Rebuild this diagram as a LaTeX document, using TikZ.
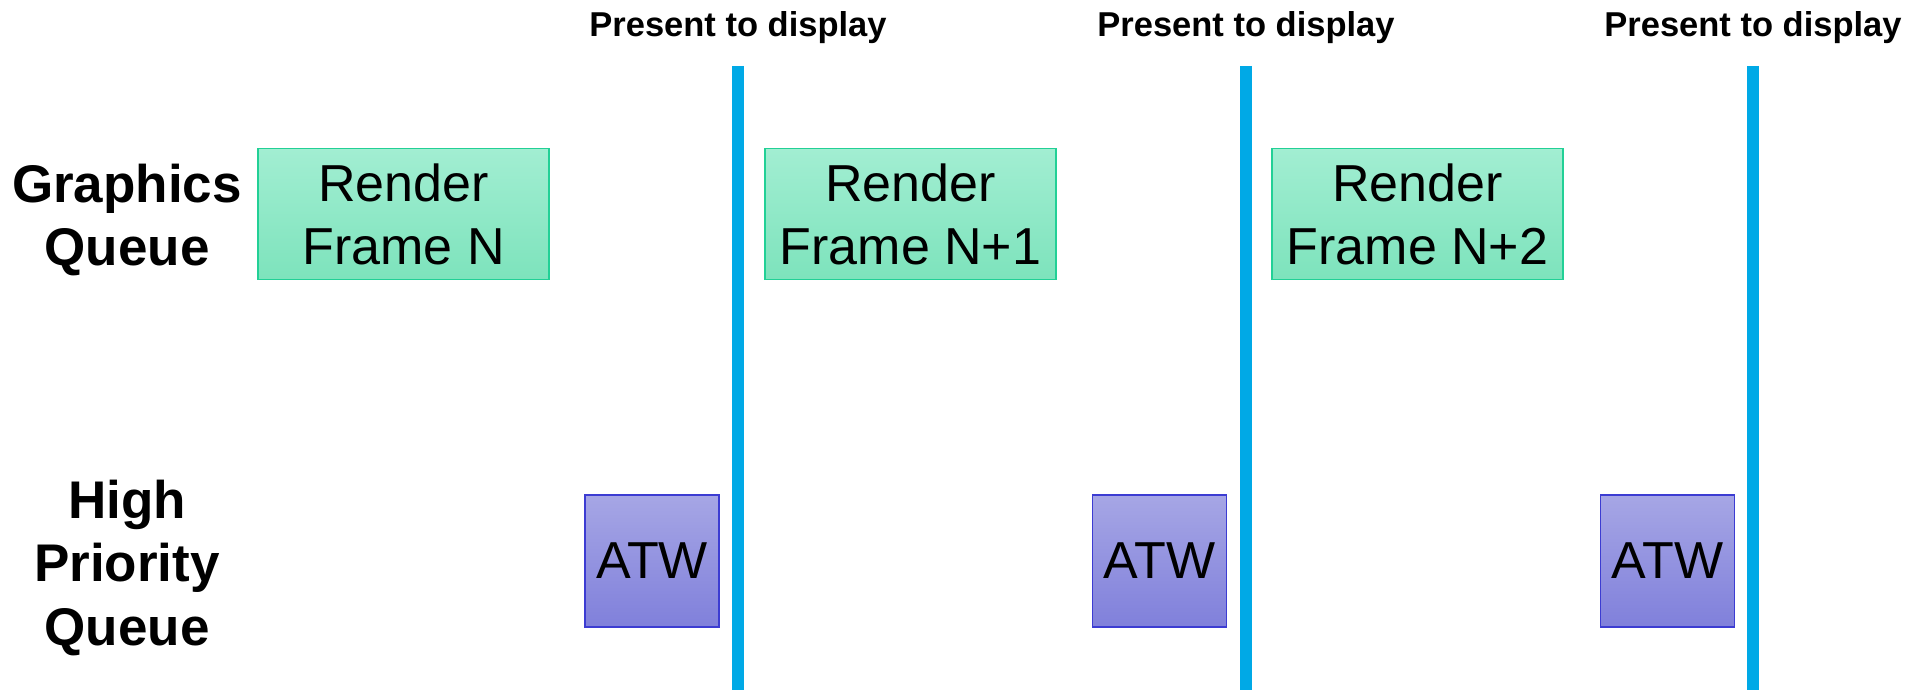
\documentclass[tikz,border=0pt]{standalone}
\usepackage{fontspec}
\setmainfont{Liberation Sans}
\begin{document}
\begin{tikzpicture}[x=1pt,y=-1pt,
  renderbox/.style={draw=rendbd, line width=1.3pt, top color=rendtop, bottom color=rendbot,
    minimum width=291pt, minimum height=131pt, inner sep=0pt, align=center,
    font=\fontsize{52}{63}\selectfont},
  atwbox/.style={draw=atwbd, line width=1.3pt, top color=atwtop, bottom color=atwbot,
    minimum width=134pt, minimum height=132pt, inner sep=0pt,
    font=\fontsize{52}{63}\selectfont},
  queuelabel/.style={align=center, inner sep=0pt, font=\bfseries\fontsize{53}{63.5}\selectfont},
  presentlabel/.style={anchor=base, inner sep=0pt, font=\bfseries\fontsize{34.5}{40}\selectfont},
  vsync/.style={draw=vsyncblue, line width=12pt}]
\definecolor{rendtop}{HTML}{A2EED2}
\definecolor{rendbot}{HTML}{7DE3BC}
\definecolor{rendbd}{HTML}{22D096}
\definecolor{atwtop}{HTML}{A6A6E5}
\definecolor{atwbot}{HTML}{8080DB}
\definecolor{atwbd}{HTML}{3C3CD2}
\definecolor{vsyncblue}{HTML}{00A9E6}
\useasboundingbox (0,0) rectangle (1919,690);

% queue labels
\node[queuelabel] (gq) at (127,220) {Graphics\\Queue};
\node[queuelabel] (hq) at (127,568) {High\\Priority\\Queue};

% render work on the graphics queue
\node[renderbox] (r0) at (403.5,214) {Render\\Frame N};
\node[renderbox] (r1) at (910.5,214) {Render\\Frame N+1};
\node[renderbox] (r2) at (1417.5,214) {Render\\Frame N+2};

% timewarp work on the high priority queue
\node[atwbox] (a0) at (652,561) {ATW};
\node[atwbox] (a1) at (1159.5,561) {ATW};
\node[atwbox] (a2) at (1667.5,561) {ATW};

% vsync markers
\foreach \i/\x in {0/738,1/1246,2/1753}{
  \coordinate (vt\i) at (\x,66);
  \coordinate (vb\i) at (\x,690);
  \draw[vsync] (vt\i) -- (vb\i);
  \node[presentlabel] (p\i) at (\x,37) {Present to display};
}
\end{tikzpicture}
\end{document}
